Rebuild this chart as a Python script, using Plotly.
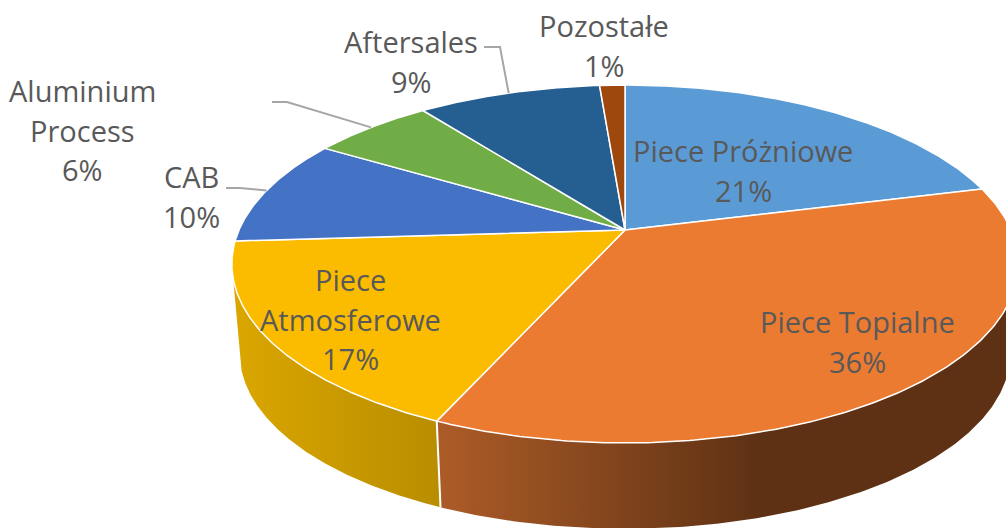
import numpy as np
import plotly.graph_objects as go

# ---- data ----
categories = ["Piece Próżniowe", "Piece Topialne", "Piece Atmosferowe", "CAB",
              "Aluminium Process", "Aftersales", "Pozostałe"]
values = [21.0, 35.6, 17.4, 9.7, 6.0, 9.05, 1.25]
colors = ["#5B9BD5", "#EB7B31", "#FBBC00", "#4472C4", "#70AD47", "#255E91", "#9E480E"]

# ---- label layout: one entry of text lines per category, and centres ----
label_lines = [["Piece Próżniowe", "21%"], ["Piece Topialne", "36%"],
               ["Piece", "Atmosferowe", "17%"], ["CAB", "10%"],
               ["Aluminium", "Process", "6%"], ["Aftersales", "9%"], ["Pozostałe", "1%"]]
label_x = [743, 857, 350, 191, 82, 411, 604]
label_y0 = [150.5, 321.5, 279.5, 176.5, 90.5, 41.5, 25.5]
LINE_STEP = 39.5
leader_elbows = {3: [(226, 188), (240, 188)], 4: [(272, 102), (287, 102)], 5: [(484, 47), (500, 47)]}

# ---- perspective projection of the pie disc ----
CX, CY, BX, AY, K = 625, 230, 386, 172.5, 0.19
DEPTH, BOTTOM_SCALE = 90, 0.98


def project(theta, scale=1.0, dy=0.0):
    u, v = np.sin(theta), np.cos(theta)
    w = 1 + K * v
    return CX + scale * BX * u / w, CY + dy - scale * AY * v / w


cum = np.concatenate([[0], np.cumsum(values)]) / sum(values) * 2 * np.pi
fig = go.Figure()

# side walls: only the front part of the rim, between the two silhouette angles
SIL_R = np.arccos(-K)
SIL_L = 2 * np.pi - SIL_R
side_styles = {
    1: dict(start=437, stop=760, scale=[[0, "#AD5C27"], [1, "#5E3114"]]),
    2: dict(start=233, stop=441, scale=[[0, "#DBA600"], [1, "#B88D00"]]),
}
for i, st in side_styles.items():
    th = np.linspace(max(cum[i], SIL_R), min(cum[i + 1], SIL_L), 200)
    xt, yt = project(th)
    xb, yb = project(th[::-1], BOTTOM_SCALE, DEPTH)
    fig.add_trace(go.Scatter(
        x=np.concatenate([xt, xb]), y=np.concatenate([yt, yb]),
        mode="lines", fill="toself", line=dict(width=0),
        fillgradient=dict(type="horizontal", start=st["start"], stop=st["stop"], colorscale=st["scale"]),
        hoverinfo="skip", showlegend=False))

# white seam between the two walls
xs0, ys0 = project(cum[2])
xs1, ys1 = project(cum[2], BOTTOM_SCALE, DEPTH)
fig.add_trace(go.Scatter(x=[float(xs0), float(xs1)], y=[float(ys0), float(ys1)], mode="lines",
                         line=dict(color="white", width=2), hoverinfo="skip", showlegend=False))

# top face
for i, name in enumerate(categories):
    th = np.linspace(cum[i], cum[i + 1], 200)
    xt, yt = project(th)
    fig.add_trace(go.Scatter(
        x=np.concatenate([[CX], xt, [CX]]), y=np.concatenate([[CY], yt, [CY]]),
        mode="lines", fill="toself", fillcolor=colors[i], name=name,
        line=dict(color="white", width=1.5), showlegend=False, hoverinfo="name"))

# leader lines from rim mid-angle to label
for i, elbow in leader_elbows.items():
    mx, my = project((cum[i] + cum[i + 1]) / 2)
    fig.add_trace(go.Scatter(
        x=[p[0] for p in elbow] + [float(mx)], y=[p[1] for p in elbow] + [float(my)],
        mode="lines", line=dict(color="#A6A6A6", width=2), hoverinfo="skip", showlegend=False))

# labels
for lines, x, y0 in zip(label_lines, label_x, label_y0):
    for j, text in enumerate(lines):
        fig.add_annotation(x=x, y=y0 + j * LINE_STEP, text=text, showarrow=False,
                           xanchor="center", yanchor="middle",
                           font=dict(family="Open Sans", size=29, color="#595959"))

fig.update_layout(
    width=1006, height=528, margin=dict(l=0, r=0, t=0, b=0),
    paper_bgcolor="white", plot_bgcolor="white",
    xaxis=dict(range=[0, 1006], visible=False, fixedrange=True),
    yaxis=dict(range=[528, 0], visible=False, fixedrange=True),
)
fig.write_html("out.html", config={"displayModeBar": False},
               post_script="document.body.style.margin='0';document.body.style.overflow='hidden';")
